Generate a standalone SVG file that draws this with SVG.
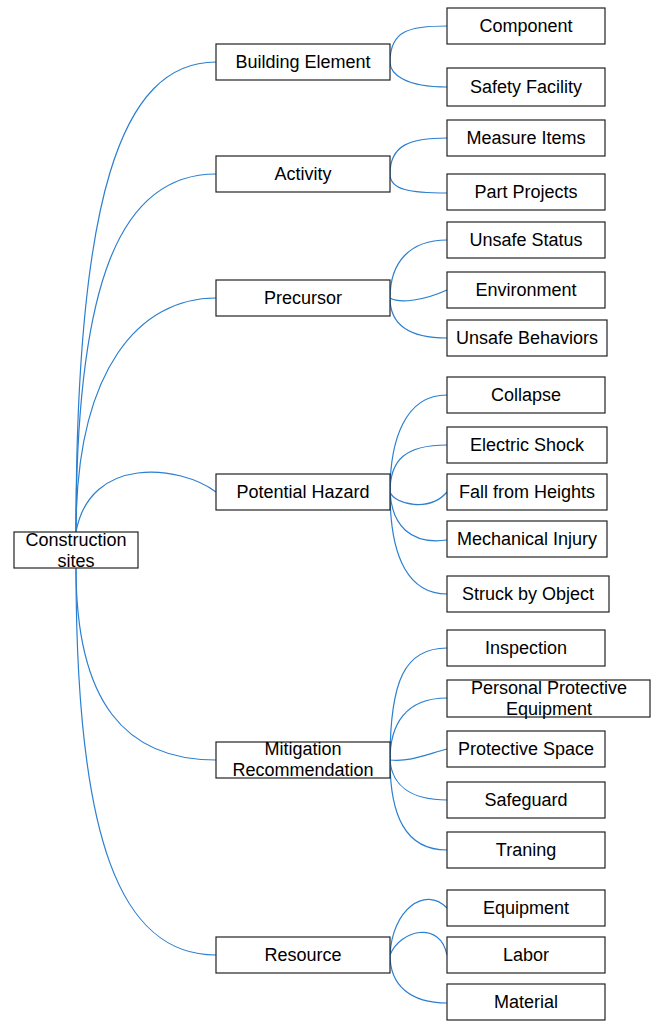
<svg xmlns="http://www.w3.org/2000/svg" width="659" height="1021" viewBox="0 0 659 1021">
  <style>
    .box { fill: #ffffff; stroke: #222222; stroke-width: 1.2; }
    .lbl { font-family: "Liberation Sans", Arial, sans-serif; font-size: 18px; fill: #000000; text-anchor: middle; }
    .edge { fill: none; stroke: #2b7fd0; stroke-width: 1.2; }
  </style>
  <rect x="0" y="0" width="659" height="1021" fill="#ffffff"/>

  <!-- connectors -->
  <g id="connectors">
    <!-- root to categories -->
    <path class="edge" d="M76,532 C76,200 120,62 216,62"/>
    <path class="edge" d="M76,532 C76,282 120,174 216,174"/>
    <path class="edge" d="M76,532 C76,368 140,298 216,298"/>
    <path class="edge" d="M76,532 C90,455 180,465 216,492"/>
    <path class="edge" d="M76,568 C76,702 125,760 216,760"/>
    <path class="edge" d="M76,568 C76,839 120,955 216,955"/>
    <!-- Building Element -->
    <path class="edge" d="M390,62 C390,30 410,26 447,26"/>
    <path class="edge" d="M390,62 C390,74 405,87 447,87"/>
    <!-- Activity -->
    <path class="edge" d="M390,174 C390,145 410,138 447,138"/>
    <path class="edge" d="M390,174 C390,190 410,193 447,193"/>
    <!-- Precursor -->
    <path class="edge" d="M390,298 C390,262 410,240 447,240"/>
    <path class="edge" d="M390,298 C400,304 425,300 447,290"/>
    <path class="edge" d="M390,298 C390,325 410,338 447,338"/>
    <!-- Potential Hazard -->
    <path class="edge" d="M390,492 C390,440 405,395 447,395"/>
    <path class="edge" d="M390,492 C390,460 405,445 447,445"/>
    <path class="edge" d="M390,492 C395,505 430,512 447,492"/>
    <path class="edge" d="M390,492 C392,525 410,545 447,540"/>
    <path class="edge" d="M390,492 C390,560 410,594 447,594"/>
    <!-- Mitigation Recommendation -->
    <path class="edge" d="M390,760 C390,680 405,648 447,648"/>
    <path class="edge" d="M390,760 C390,725 405,698 447,698"/>
    <path class="edge" d="M390,760 C410,762 425,755 447,749"/>
    <path class="edge" d="M390,760 C392,785 410,800 447,800"/>
    <path class="edge" d="M390,760 C390,815 405,850 447,850"/>
    <!-- Resource -->
    <path class="edge" d="M390,955 C392,910 425,885 447,908"/>
    <path class="edge" d="M390,955 C400,930 440,920 447,955"/>
    <path class="edge" d="M390,955 C390,985 410,1003 447,1003"/>
  </g>

  <!-- root -->
  <g id="construction-sites">
    <rect class="box" x="14" y="532" width="124" height="36"/>
    <text class="lbl" x="76" y="546">Construction</text>
    <text class="lbl" x="76" y="567">sites</text>
  </g>

  <!-- categories -->
  <g id="building-element">
    <rect class="box" x="216" y="44" width="174" height="36"/>
    <text class="lbl" x="303" y="68">Building Element</text>
  </g>
  <g id="activity">
    <rect class="box" x="216" y="156" width="174" height="36"/>
    <text class="lbl" x="303" y="180">Activity</text>
  </g>
  <g id="precursor">
    <rect class="box" x="216" y="280" width="174" height="36"/>
    <text class="lbl" x="303" y="304">Precursor</text>
  </g>
  <g id="potential-hazard">
    <rect class="box" x="216" y="474" width="174" height="36"/>
    <text class="lbl" x="303" y="498">Potential Hazard</text>
  </g>
  <g id="mitigation-recommendation">
    <rect class="box" x="216" y="742" width="174" height="36"/>
    <text class="lbl" x="303" y="755">Mitigation</text>
    <text class="lbl" x="303" y="776">Recommendation</text>
  </g>
  <g id="resource">
    <rect class="box" x="216" y="937" width="174" height="36"/>
    <text class="lbl" x="303" y="961">Resource</text>
  </g>

  <!-- leaves -->
  <g id="component">
    <rect class="box" x="447" y="8" width="158" height="36"/>
    <text class="lbl" x="526" y="32">Component</text>
  </g>
  <g id="safety-facility">
    <rect class="box" x="447" y="68" width="158" height="38"/>
    <text class="lbl" x="526" y="93">Safety Facility</text>
  </g>
  <g id="measure-items">
    <rect class="box" x="447" y="120" width="158" height="36"/>
    <text class="lbl" x="526" y="144">Measure Items</text>
  </g>
  <g id="part-projects">
    <rect class="box" x="447" y="174" width="158" height="36"/>
    <text class="lbl" x="526" y="198">Part Projects</text>
  </g>
  <g id="unsafe-status">
    <rect class="box" x="447" y="222" width="158" height="36"/>
    <text class="lbl" x="526" y="246">Unsafe Status</text>
  </g>
  <g id="environment">
    <rect class="box" x="447" y="272" width="158" height="36"/>
    <text class="lbl" x="526" y="296">Environment</text>
  </g>
  <g id="unsafe-behaviors">
    <rect class="box" x="447" y="320" width="160" height="36"/>
    <text class="lbl" x="527" y="344">Unsafe Behaviors</text>
  </g>
  <g id="collapse">
    <rect class="box" x="447" y="377" width="158" height="36"/>
    <text class="lbl" x="526" y="401">Collapse</text>
  </g>
  <g id="electric-shock">
    <rect class="box" x="447" y="427" width="160" height="36"/>
    <text class="lbl" x="527" y="451">Electric Shock</text>
  </g>
  <g id="fall-from-heights">
    <rect class="box" x="447" y="474" width="160" height="36"/>
    <text class="lbl" x="527" y="498">Fall from Heights</text>
  </g>
  <g id="mechanical-injury">
    <rect class="box" x="447" y="521" width="160" height="36"/>
    <text class="lbl" x="527" y="545">Mechanical Injury</text>
  </g>
  <g id="struck-by-object">
    <rect class="box" x="447" y="576" width="162" height="36"/>
    <text class="lbl" x="528" y="600">Struck by Object</text>
  </g>
  <g id="inspection">
    <rect class="box" x="447" y="630" width="158" height="36"/>
    <text class="lbl" x="526" y="654">Inspection</text>
  </g>
  <g id="personal-protective-equipment">
    <rect class="box" x="447" y="680" width="203" height="37"/>
    <text class="lbl" x="549" y="694">Personal Protective</text>
    <text class="lbl" x="549" y="715">Equipment</text>
  </g>
  <g id="protective-space">
    <rect class="box" x="447" y="731" width="158" height="36"/>
    <text class="lbl" x="526" y="755">Protective Space</text>
  </g>
  <g id="safeguard">
    <rect class="box" x="447" y="782" width="158" height="36"/>
    <text class="lbl" x="526" y="806">Safeguard</text>
  </g>
  <g id="traning">
    <rect class="box" x="447" y="832" width="158" height="36"/>
    <text class="lbl" x="526" y="856">Traning</text>
  </g>
  <g id="equipment">
    <rect class="box" x="447" y="890" width="158" height="36"/>
    <text class="lbl" x="526" y="914">Equipment</text>
  </g>
  <g id="labor">
    <rect class="box" x="447" y="937" width="158" height="36"/>
    <text class="lbl" x="526" y="961">Labor</text>
  </g>
  <g id="material">
    <rect class="box" x="447" y="984" width="158" height="36"/>
    <text class="lbl" x="526" y="1008">Material</text>
  </g>
</svg>
